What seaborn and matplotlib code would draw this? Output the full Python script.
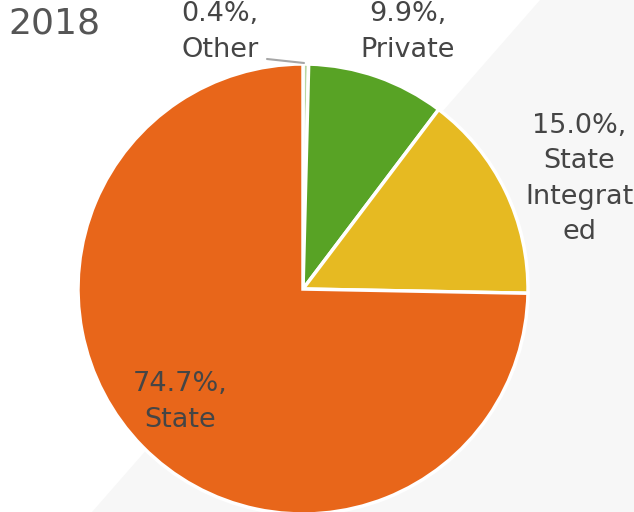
import matplotlib
matplotlib.use("Agg")
import matplotlib.pyplot as plt
from matplotlib.patches import Polygon
import seaborn as sns

# data (clockwise from 12 o'clock)
sectors = ["Other", "Private", "State\nIntegrat\ned", "State"]
shares = [0.4, 9.9, 15.0, 74.7]
colors = ["#B9D7A1", "#58A325", "#E6BA22", "#E8661A"]
year_label = "2018"

sns.set_theme(style="white")
plt.rcParams["font.family"] = ["DejaVu Sans"]

W, H = 634, 512
fig = plt.figure(figsize=(W / 100, H / 100), dpi=100)
fig.patch.set_facecolor("white")

ax = fig.add_axes([0, 0, 1, 1])
ax.set_facecolor("none")

# light grey backdrop with diagonal edge, like the slide
ax.add_patch(Polygon([(92 / W, 0), (540 / W, 1), (1, 1), (1, 0)],
                     closed=True, transform=ax.transAxes,
                     facecolor="#F7F7F7", edgecolor="none", zorder=-5))

# pie centre / radius in pixels
cx, cy, r = 303, 289, 225


def px(x, y):
    return (x - cx) / r, (cy - y) / r


ax.pie(shares, colors=colors, startangle=90, counterclock=False,
       radius=1, center=(0, 0),
       wedgeprops=dict(edgecolor="white", linewidth=2.5))

ax.set_xlim(-cx / r, (W - cx) / r)
ax.set_ylim(-(H - cy) / r, cy / r)
ax.set_aspect("auto")
ax.axis("off")

# data labels
txt = dict(ha="center", va="center", fontsize=19.5, color="#454545",
           linespacing=1.47, clip_on=False)
label_pos = [(220, 32), (408, 32), (579, 179), (180, 402)]
for name, val, (lx, ly) in zip(sectors, shares, label_pos):
    x, y = px(lx, ly)
    ax.text(x, y, f"{val:.1f}%,\n{name}", **txt)

# leader line for the tiny slice
x0, y0 = px(267, 59)
x1, y1 = px(304, 63)
ax.plot([x0, x1], [y0, y1], color="#A6A6A6", lw=1.5)

fig.text(8 / W, 1 - 24 / H, year_label, fontsize=26, color="#555555",
         ha="left", va="center")

fig.savefig("out.png", dpi=100)
